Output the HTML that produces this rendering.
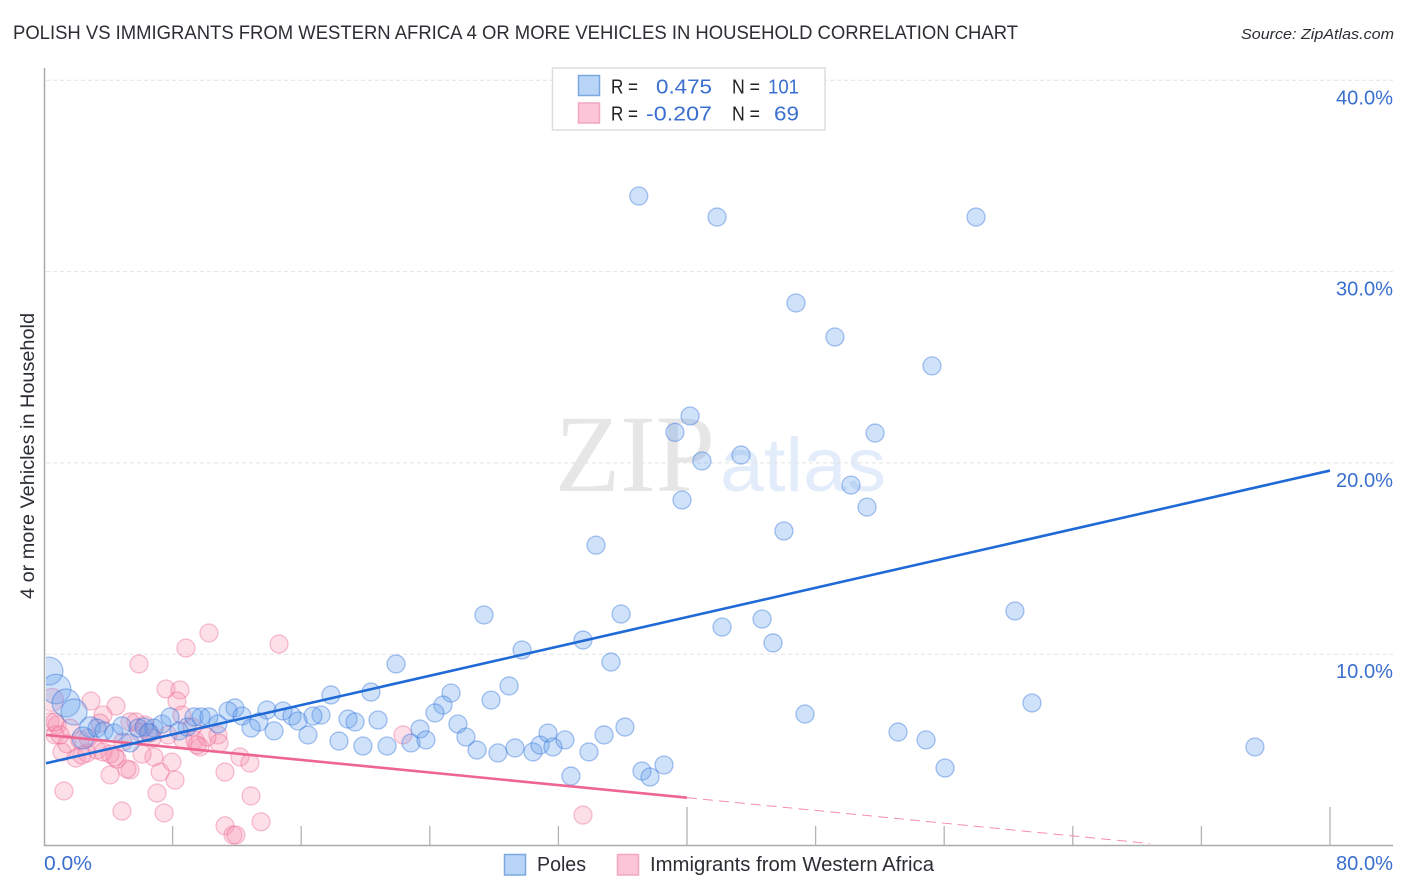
<!DOCTYPE html>
<html lang="en">
<head>
<meta charset="utf-8">
<title>Polish vs Immigrants from Western Africa correlation chart</title>
<style>
html,body{margin:0;padding:0;background:#fff;width:1406px;height:892px;overflow:hidden}
svg{display:block;font-family:"Liberation Sans",sans-serif}
</style>
</head>
<body>
<svg id="chart" xmlns="http://www.w3.org/2000/svg" width="1406" height="892" viewBox="0 0 1406 892">
  <defs><clipPath id="plot-clip"><rect x="46" y="68" width="1347" height="777"/></clipPath></defs>
  <text x="13" y="39" font-size="19" fill="#2b2e33" textLength="1005" lengthAdjust="spacingAndGlyphs">POLISH VS IMMIGRANTS FROM WESTERN AFRICA 4 OR MORE VEHICLES IN HOUSEHOLD CORRELATION CHART</text>
  <text x="1394" y="39" font-size="15" font-style="italic" fill="#2b2e33" text-anchor="end" textLength="153" lengthAdjust="spacingAndGlyphs">Source: ZipAtlas.com</text>
  <text x="555" y="491" font-size="110" fill="#e6e6e6" font-family="'Liberation Serif',serif" textLength="160" lengthAdjust="spacingAndGlyphs">ZIP</text>
  <text x="720" y="491" font-size="76" fill="#e3ecfa" textLength="166" lengthAdjust="spacingAndGlyphs">atlas</text>
  <g id="grid"></g>
  <g id="axes"></g>
  <g id="pink-points" clip-path="url(#plot-clip)"></g>
  <g id="blue-points" clip-path="url(#plot-clip)"></g>
  <g id="trends"></g>
  <text transform="translate(34,456) rotate(-90)" font-size="19.5" fill="#2b2e33" text-anchor="middle" textLength="286" lengthAdjust="spacingAndGlyphs">4 or more Vehicles in Household</text>

  <g>
    <rect x="552.5" y="68" width="272.5" height="62" fill="#fff" stroke="#dedede" stroke-width="1.5"/>
    <rect x="578.5" y="75.5" width="21" height="20" fill="#b8d4f6" stroke="#7ba8e0" stroke-width="1.5"/>
    <rect x="578.5" y="103" width="21" height="20" fill="#fcc6d8" stroke="#f2a6c0" stroke-width="1.5"/>
    <g font-size="20.5">
      <text x="611" y="93.5" fill="#222" textLength="27" lengthAdjust="spacingAndGlyphs">R =</text>
      <text x="656" y="93.5" fill="#3a6fd0" textLength="56" lengthAdjust="spacingAndGlyphs">0.475</text>
      <text x="732" y="93.5" fill="#222" textLength="28" lengthAdjust="spacingAndGlyphs">N =</text>
      <text x="768" y="93.5" fill="#3a6fd0" textLength="31" lengthAdjust="spacingAndGlyphs">101</text>
      <text x="611" y="120.5" fill="#222" textLength="27" lengthAdjust="spacingAndGlyphs">R =</text>
      <text x="646" y="120.5" fill="#3a6fd0" textLength="66" lengthAdjust="spacingAndGlyphs">-0.207</text>
      <text x="732" y="120.5" fill="#222" textLength="28" lengthAdjust="spacingAndGlyphs">N =</text>
      <text x="774" y="120.5" fill="#3a6fd0" textLength="25" lengthAdjust="spacingAndGlyphs">69</text>
    </g>
  </g>

  <g>
    <rect x="504.5" y="854.5" width="21" height="20.5" fill="#b8d4f6" stroke="#7ba8e0" stroke-width="1.5"/>
    <text x="537" y="871" font-size="20" fill="#2b2e33" textLength="49" lengthAdjust="spacingAndGlyphs">Poles</text>
    <rect x="617.5" y="854.5" width="21" height="20.5" fill="#fcc6d8" stroke="#f2a6c0" stroke-width="1.5"/>
    <text x="650" y="871" font-size="20" fill="#2b2e33" textLength="284" lengthAdjust="spacingAndGlyphs">Immigrants from Western Africa</text>
  </g>
</svg>
<script>
const yTickValues = [10, 20, 30, 40];
const yTickLabels = ["10.0%", "20.0%", "30.0%", "40.0%"];
const xTickValues = [0, 8, 16, 24, 32, 40, 48, 56, 64, 72, 80];
const xEndValues = [0, 80];
const xEndLabels = ["0.0%", "80.0%"];

const polesX = [37.0,41.87,57.98,46.78,49.2,55.24,40.19,39.25,51.7,43.36,40.93,50.2,39.69,51.2,46.03,34.34,27.37,35.9,60.4,44.67,42.18,33.53,45.35,29.74,35.27,21.9,28.93,25.32,20.34,17.85,27.81,24.82,24.32,61.46,47.34,36.14,25.75,20.78,18.91,19.35,17.23,16.73,13.87,14.87,11.88,11.45,12.32,15.43,15.8,13.37,12.88,14.31,16.42,18.35,19.84,21.34,22.83,23.39,23.76,26.25,26.94,28.24,29.3,30.42,30.86,31.35,31.66,32.41,33.9,34.84,32.78,37.2,37.7,38.57,53.13,54.87,56.05,75.33,0.31,0.75,1.37,1.87,2.86,2.43,3.3,3.73,4.35,4.85,5.35,5.85,6.22,6.84,7.34,7.84,8.4,8.9,9.33,9.77,10.26,10.82,6.5];
const polesY = [33.95,32.85,32.85,28.36,26.58,25.07,22.45,21.6,21.56,20.41,20.1,18.84,18.06,17.69,16.44,15.7,12.05,12.1,12.26,11.84,11.42,10.74,10.59,10.22,9.59,9.49,8.34,7.97,8.02,7.87,7.6,7.34,6.93,7.45,6.87,6.19,6.35,6.56,6.61,6.46,6.82,6.77,7.08,7.03,7.19,7.03,6.77,6.77,6.51,6.46,6.14,5.99,5.78,5.46,5.2,5.2,5.36,6.09,5.52,5.67,4.99,4.84,5.1,4.89,5.25,5.88,5.15,5.52,4.89,5.78,3.63,3.89,3.58,4.21,5.93,5.52,4.05,5.15,9.12,8.18,7.45,6.98,6.19,5.62,6.14,5.99,5.88,6.25,5.36,6.14,6.19,6.14,6.35,6.72,5.99,6.19,6.72,6.72,6.72,6.35,5.9];
const polesWeightLarge = {78: 2.4, 79: 2.7, 80: 2.4, 81: 2.1, 82: 1.3, 83: 1.5};

const immigrantsX = [10.26,8.83,14.62,5.91,7.59,8.46,8.27,2.92,4.48,3.67,0.5,0.37,0.81,0.68,1.62,3.48,5.72,6.28,8.58,10.82,10.89,12.19,12.81,11.26,12.88,13.5,11.26,11.76,11.94,1.24,4.85,7.03,7.47,4.11,8.15,7.22,7.96,5.35,5.16,6.84,6.1,4.54,4.11,1.99,1.12,1.43,2.67,2.36,3.3,2.24,3.67,4.42,7.71,6.59,5.97,9.21,9.39,9.7,8.65,10.14,4.91,22.33,33.53,5.35,6.72,1.0,0.68,2.74,9.52];
const immigrantsY = [11.11,10.32,10.53,9.49,8.18,8.13,7.55,7.55,7.29,6.82,7.61,6.46,6.3,5.78,6.14,6.4,6.46,6.3,6.82,5.78,5.36,4.63,4.31,3.84,2.59,1.24,1.03,0.55,0.55,2.85,1.8,2.74,1.7,3.69,3.42,3.84,4.36,3.95,4.0,4.63,4.78,4.52,4.78,4.57,4.89,5.31,4.84,4.73,4.99,5.51,4.89,4.63,5.78,5.88,5.93,6.19,5.52,5.15,5.52,5.67,5.41,5.78,1.59,6.46,5.62,5.78,6.46,5.62,5.25];
const immigrantsWeightLarge = {10: 1.6};

const polesTrendX = [0, 80];
const polesTrendY = [4.3, 19.6];
const immigrantsSolidX = [0, 40];
const immigrantsSolidY = [5.78, 2.5];
const immigrantsDashX = [40, 68.8];
const immigrantsDashY = [2.5, 0.1];

const sx = v => 44 + v * 16.075;
const sy = v => 845.5 - v * 19.13;
const sr = w => 9 * Math.sqrt(w);

const NS = "http://www.w3.org/2000/svg";
function make(parent, tag, attrs, text) {
  const el = document.createElementNS(NS, tag);
  for (const k in attrs) el.setAttribute(k, attrs[k]);
  if (text !== undefined) el.textContent = text;
  parent.appendChild(el);
  return el;
}

const grid = document.getElementById("grid");
const axes = document.getElementById("axes");
const pinkG = document.getElementById("pink-points");
const blueG = document.getElementById("blue-points");
const trends = document.getElementById("trends");

yTickValues.forEach((v, i) => {
  const line = make(grid, "line", {x1: 46, x2: 1393, y1: sy(v), y2: sy(v), stroke: "#e2e2e2", "stroke-width": 1, "stroke-dasharray": "4 3"});
  
  
  const label = make(axes, "text", {x: 1393, y: sy(v) + 24, "font-size": 20, fill: "#3a6fd0", "text-anchor": "end", textLength: 57, lengthAdjust: "spacingAndGlyphs"}, yTickLabels[i]);
  
  
});

const yAxis = make(axes, "line", {x1: 44.5, x2: 44.5, y1: 68, y2: 846, stroke: "#aaaaaa", "stroke-width": 1.5});


const xAxis = make(axes, "line", {x1: 44, x2: 1393, y1: 845.5, y2: 845.5, stroke: "#aaaaaa", "stroke-width": 1.5});



xTickValues.forEach((v, i) => {
  if (i === 0) return;
  const tall = i % 5 === 0;
  const tick = make(axes, "line", {x1: sx(v), x2: sx(v), y1: tall ? 807 : 826, y2: 845, stroke: "#b4b4b4", "stroke-width": 1.3});
  
  
});

xEndValues.forEach((v, i) => {
  const label = make(axes, "text", {x: i === 0 ? sx(v) : 1393, y: 870, "font-size": 20, fill: "#3a6fd0", "text-anchor": i === 0 ? "start" : "end", textLength: i === 0 ? 48 : 57, lengthAdjust: "spacingAndGlyphs"}, xEndLabels[i]);
  
  
});

immigrantsX.forEach((x, i) => {
  const dot = make(pinkG, "circle", {cx: sx(x), cy: sy(immigrantsY[i]), r: sr(immigrantsWeightLarge[i] || 1), fill: "rgba(248,150,180,0.3)", stroke: "rgba(235,95,140,0.38)", "stroke-width": 1.3});
  
  
});

polesX.forEach((x, i) => {
  const dot = make(blueG, "circle", {cx: sx(x), cy: sy(polesY[i]), r: sr(polesWeightLarge[i] || 1), fill: "rgba(100,160,235,0.3)", stroke: "rgba(50,115,220,0.42)", "stroke-width": 1.3});
  
  
});

const pinkDash = make(trends, "line", {x1: sx(immigrantsDashX[0]), x2: sx(immigrantsDashX[1]), y1: sy(immigrantsDashY[0]), y2: sy(immigrantsDashY[1]), stroke: "#f48fb0", "stroke-width": 1, "stroke-dasharray": "10 6"});


const pinkLine = make(trends, "line", {x1: sx(immigrantsSolidX[0]) + 2, x2: sx(immigrantsSolidX[1]), y1: sy(immigrantsSolidY[0]), y2: sy(immigrantsSolidY[1]), stroke: "#ee6590", "stroke-width": 2.6});


const blueLine = make(trends, "line", {x1: sx(polesTrendX[0]) + 2, x2: sx(polesTrendX[1]), y1: sy(polesTrendY[0]), y2: sy(polesTrendY[1]), stroke: "#1f6ad6", "stroke-width": 2.6});


</script>
</body>
</html>
